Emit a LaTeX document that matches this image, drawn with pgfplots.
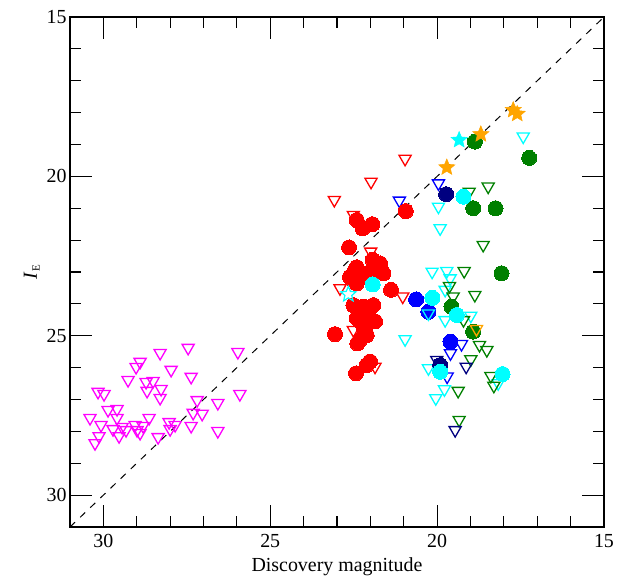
\documentclass[border=0pt]{standalone}
\usepackage{fontspec}
\setmainfont{Liberation Serif}
\usepackage{pgfplots}
\pgfplotsset{compat=1.18}
\usetikzlibrary{plotmarks}
\definecolor{myorange}{HTML}{FFA500}
\definecolor{navy}{HTML}{000080}
\definecolor{dgreen}{HTML}{008000}
\definecolor{mag}{HTML}{FF00FF}
\definecolor{cy}{HTML}{00FFFF}
\pgfdeclareplotmark{fstar}{%
 \pgfpathmoveto{\pgfpointpolar{90}{\pgfplotmarksize}}%
 \pgfpathlineto{\pgfpointpolar{126}{0.45\pgfplotmarksize}}%
 \pgfpathlineto{\pgfpointpolar{162}{\pgfplotmarksize}}%
 \pgfpathlineto{\pgfpointpolar{198}{0.45\pgfplotmarksize}}%
 \pgfpathlineto{\pgfpointpolar{234}{\pgfplotmarksize}}%
 \pgfpathlineto{\pgfpointpolar{270}{0.45\pgfplotmarksize}}%
 \pgfpathlineto{\pgfpointpolar{306}{\pgfplotmarksize}}%
 \pgfpathlineto{\pgfpointpolar{342}{0.45\pgfplotmarksize}}%
 \pgfpathlineto{\pgfpointpolar{18}{\pgfplotmarksize}}%
 \pgfpathlineto{\pgfpointpolar{54}{0.45\pgfplotmarksize}}%
 \pgfpathclose\pgfusepathqfillstroke}
\pgfdeclareplotmark{ostar}{%
 \pgfpathmoveto{\pgfpointpolar{90}{\pgfplotmarksize}}%
 \pgfpathlineto{\pgfpointpolar{126}{0.45\pgfplotmarksize}}%
 \pgfpathlineto{\pgfpointpolar{162}{\pgfplotmarksize}}%
 \pgfpathlineto{\pgfpointpolar{198}{0.45\pgfplotmarksize}}%
 \pgfpathlineto{\pgfpointpolar{234}{\pgfplotmarksize}}%
 \pgfpathlineto{\pgfpointpolar{270}{0.45\pgfplotmarksize}}%
 \pgfpathlineto{\pgfpointpolar{306}{\pgfplotmarksize}}%
 \pgfpathlineto{\pgfpointpolar{342}{0.45\pgfplotmarksize}}%
 \pgfpathlineto{\pgfpointpolar{18}{\pgfplotmarksize}}%
 \pgfpathlineto{\pgfpointpolar{54}{0.45\pgfplotmarksize}}%
 \pgfpathclose\pgfusepathqstroke}
\pgfplotsset{
 tri/.style={only marks, mark=triangle, mark size=7bp, mark options={rotate=180, line width=1.3bp, draw=#1, fill=none}},
 circ/.style={only marks, mark=*, mark size=7.5bp, mark options={draw=#1, fill=#1, line width=0pt}},
}
\begin{document}
\begin{tikzpicture}
\begin{axis}[
 scale only axis, width=534bp, height=510bp,
 x dir=reverse, y dir=reverse,
 xmin=15, xmax=31, ymin=15, ymax=31,
 xtick={15,20,25,30}, ytick={15,20,25,30},
 minor x tick num=4, minor y tick num=4,
 tick align=inside,
 major tick length=22bp, minor tick length=11bp,
 every tick/.style={black, line width=1.2bp},
 axis line style={line width=1.3bp},
 tick label style={font=\fontsize{20}{24}\selectfont},
 label style={font=\fontsize{20}{24}\selectfont},
 /pgf/number format/assume math mode=true,
 xticklabel style={yshift=-4bp},
 xlabel={Discovery magnitude},
 xlabel style={yshift=-3bp},
 ylabel={\textit{I}\raisebox{-0.3ex}{\fontsize{11}{12}\selectfont E}},
 clip=false,
]
\addplot[dashed, black, line width=1bp, dash pattern=on 7bp off 7bp] coordinates {(31,31) (15,15)};
% magenta upper limits
\addplot[tri=mag] coordinates {
(27.46,25.38) (25.97,25.51) (28.30,25.54) (28.90,25.82) (29.02,25.98) (27.97,26.07)
(27.37,26.29) (29.26,26.39) (28.72,26.45) (28.51,26.42) (28.69,26.73) (28.27,26.67)
(30.16,26.76) (29.98,26.83) (25.91,26.83) (28.30,26.95) (27.19,27.02) (26.57,27.11)
(29.86,27.33) (29.59,27.30) (27.31,27.42) (27.04,27.45) (30.40,27.58) (29.59,27.58)
(28.63,27.58) (30.07,27.80) (28.03,27.71) (27.85,27.80) (27.37,27.83) (29.05,27.80)
(28.81,27.83) (29.71,27.93) (29.44,27.86) (29.32,27.96) (28.90,28.05) (29.53,28.15)
(30.13,28.15) (30.25,28.37) (28.36,28.18) (28.00,27.93) (26.57,27.99) (28.99,27.96)
};
% red upper limits
\addplot[tri=red] coordinates {
(23.08,20.74) (20.96,19.45) (21.98,20.17) (22.51,21.21) (21.99,22.36) (22.91,23.51)
(21.03,23.77) (22.51,24.82) (21.86,25.97)
};
% cyan upper limits
\addplot[tri=cy] coordinates {
(17.42,18.75) (19.96,20.95) (19.91,21.63) (20.15,22.99) (19.71,22.97) (19.61,23.20)
(19.76,23.56) (19.76,24.51) (18.99,24.37) (20.96,25.11) (20.26,26.02) (19.78,26.68)
(20.04,26.96) (18.17,26.49)
};
% green upper limits
\addplot[tri=dgreen] coordinates {
(18.47,20.32) (19.04,20.48) (18.62,22.15) (19.19,22.97) (19.63,23.44) (18.87,23.72)
(19.52,23.77) (19.21,24.51) (18.73,25.29) (18.51,25.45) (18.99,25.74) (18.39,26.26)
(18.30,26.57) (19.37,26.73) (19.34,27.64)
};
% blue upper limits
\addplot[tri=blue] coordinates {
(19.96,20.22) (21.13,20.76) (19.27,25.26) (19.60,25.55) (19.70,26.28)
};
% navy upper limits
\addplot[tri=navy] coordinates {
(20.01,25.76) (19.13,25.97) (19.46,27.96)
};
% red detections
\addplot[circ=red] coordinates {
(20.94,21.09) (22.41,21.37) (21.94,21.50) (22.23,21.63) (22.64,22.23) (21.93,22.62)
(21.71,22.73) (22.41,22.85) (21.61,23.04) (22.61,23.15) (22.11,23.04) (22.41,23.36)
(21.38,23.56) (22.51,24.04) (22.21,24.09) (21.91,24.04) (22.41,24.45) (22.01,24.50)
(21.86,24.55) (22.21,24.72) (22.11,24.98) (23.06,24.95) (22.31,25.13) (22.39,25.24)
(22.01,25.81) (22.43,26.18) (22.11,25.92) (22.46,22.94) (21.91,22.94) (22.01,23.15)
(22.58,23.20) (22.00,24.10)
};
% navy detections
\addplot[circ=navy] coordinates {(19.73,20.56) (19.91,25.92)};
% blue detections
\addplot[circ=blue] coordinates {(20.63,23.86) (20.26,24.25) (19.60,25.19)};
% green detections
\addplot[circ=dgreen] coordinates {
(18.87,18.91) (17.24,19.42) (18.92,21.00) (18.25,21.00) (18.07,23.04) (19.57,24.09) (18.92,24.87)
};
% cyan detections
\addplot[circ=cy] coordinates {
(19.21,20.64) (20.14,23.81) (19.41,24.35) (19.91,26.13) (18.04,26.20) (21.93,23.39)
};
% overlaid limits
\addplot[tri=cy] coordinates {(20.26,24.30)};
\addplot[tri=myorange] coordinates {(18.82,24.79)};
% stars
\addplot[only marks, mark=fstar, mark size=8.5bp, mark options={draw=myorange, fill=myorange, line width=0.5bp}] coordinates {
(19.71,19.72) (18.69,18.68) (17.72,17.92) (17.60,18.04)
};
\addplot[only marks, mark=fstar, mark size=8.5bp, mark options={draw=cy, fill=cy, line width=0.5bp}] coordinates {(19.34,18.86)};
\addplot[only marks, mark=ostar, mark size=8bp, mark options={draw=cy, line width=1.2bp}] coordinates {(22.66,23.70)};
\coordinate (sw) at (rel axis cs:0,0);
\coordinate (ne) at (rel axis cs:1,1);
\end{axis}
\path (sw) ++(-70bp,-48bp) coordinate (bb1);
\path (ne) ++(23bp,17bp) coordinate (bb2);
\path (bb1) rectangle (bb2);
\end{tikzpicture}
\end{document}
